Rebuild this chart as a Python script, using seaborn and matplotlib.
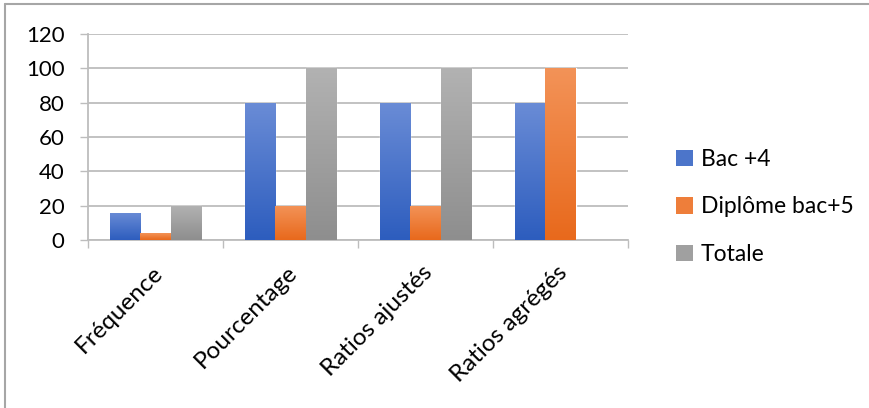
import numpy as np
import pandas as pd
import matplotlib
matplotlib.use("Agg")
import matplotlib.pyplot as plt
import matplotlib.transforms as mtransforms
from matplotlib.colors import LinearSegmentedColormap
from matplotlib.patches import Patch
from matplotlib.lines import Line2D
import seaborn as sns

# Data
categories = ["Fréquence", "Pourcentage", "Ratios ajustés", "Ratios agrégés"]
series = ["Bac +4", "Diplôme bac+5", "Totale"]
bac4 = [16, 80, 80, 80]
bac5 = [4, 20, 20, 100]
totale = [20, 100, 100, None]
yticks = [0, 20, 40, 60, 80, 100, 120]

rows = []
for cat, a, b, c in zip(categories, bac4, bac5, totale):
    for name, v in zip(series, (a, b, c)):
        if v is not None:
            rows.append({"Catégorie": cat, "Série": name, "Valeur": v})
df = pd.DataFrame(rows)

# Gradient fills (top colour, bottom colour) per series
gradients = {
    "Bac +4": ("#6A8CD6", "#2D5DBE"),
    "Diplôme bac+5": ("#F39358", "#E8691C"),
    "Totale": ("#B2B2B2", "#8E8E8E"),
}
mid = {k: matplotlib.colors.to_hex(
    (np.array(matplotlib.colors.to_rgb(v[0])) + np.array(matplotlib.colors.to_rgb(v[1]))) / 2)
    for k, v in gradients.items()}

sns.set_theme(style="white")
plt.rcParams["font.family"] = ["Lato", "DejaVu Sans"]
plt.rcParams["text.color"] = "black"
plt.rcParams["xtick.labelcolor"] = "black"
plt.rcParams["ytick.labelcolor"] = "black"

W, H = 869, 408
fig = plt.figure(figsize=(W / 100, H / 100), dpi=100)
ax = fig.add_axes([88 / W, 1 - 240 / H, (628 - 88) / W, (240 - 34) / H])

sns.barplot(data=df, x="Catégorie", y="Valeur", hue="Série", order=categories,
            hue_order=series, palette=mid, width=0.67, gap=0, dodge=True,
            errorbar=None, legend=False, ax=ax, zorder=2)

# Overlay a vertical gradient on each bar
for name, cont in zip(series, ax.containers):
    cmap = LinearSegmentedColormap.from_list(name, [gradients[name][1], gradients[name][0]])
    grad = np.linspace(0, 1, 256).reshape(-1, 1)
    for bar in cont:
        x0, y0 = bar.get_x(), bar.get_y()
        w, h = bar.get_width(), bar.get_height()
        if not np.isfinite(h) or h == 0:
            continue
        im = ax.imshow(grad, cmap=cmap, origin="lower", aspect="auto",
                       extent=(x0, x0 + w, y0, y0 + h), zorder=3, interpolation="bicubic")
        im.set_clip_path(bar)

ax.set_xlim(-0.5, 3.5)
ax.set_ylim(0, 120)
ax.set_yticks(yticks)
ax.set_yticklabels([str(t) for t in yticks], fontsize=16)
ax.set_xlabel("")
ax.set_ylabel("")

gcol = "#BDBDBD"
ax.grid(axis="y", color=gcol, linewidth=1.3, zorder=0)
ax.set_axisbelow(True)
for s in ["top", "right"]:
    ax.spines[s].set_visible(False)
for s in ["left", "bottom"]:
    ax.spines[s].set_color(gcol)
    ax.spines[s].set_linewidth(1.3)

ax.tick_params(axis="y", which="major", length=5.8, width=1, color=gcol, pad=11, left=True)
ax.set_xticks(range(len(categories)))
ax.set_xticklabels(categories, rotation=45, ha="right", rotation_mode="anchor", fontsize=17.5)
ax.tick_params(axis="x", which="major", length=0, pad=13)
ax.set_xticks(np.arange(-0.5, 4, 1), minor=True)
ax.tick_params(axis="x", which="minor", length=5.8, width=1, color=gcol, bottom=True)

# Nudge rotated category labels slightly left and down
shift = mtransforms.ScaledTranslation(-4 / 100, -4 / 100, fig.dpi_scale_trans)
for lbl in ax.get_xticklabels():
    lbl.set_transform(lbl.get_transform() + shift)

# Legend
handles = [Patch(facecolor=mid[s], edgecolor="none") for s in series]
fig.legend(handles, series, loc="center left", bbox_to_anchor=(667 / W, 1 - 207 / H),
           frameon=False, fontsize=16.5, handlelength=0.72, handleheight=0.72,
           handletextpad=0.35, labelspacing=1.15, borderaxespad=0)

# Outer frame
fcol = "#A6A6A6"
fig.add_artist(Line2D([5 / W, 5 / W], [0, 1 - 4 / H], transform=fig.transFigure, color=fcol, lw=1.5))
fig.add_artist(Line2D([5 / W, 1], [1 - 4 / H, 1 - 4 / H], transform=fig.transFigure, color=fcol, lw=1.5))

fig.savefig("out.png", dpi=100)
